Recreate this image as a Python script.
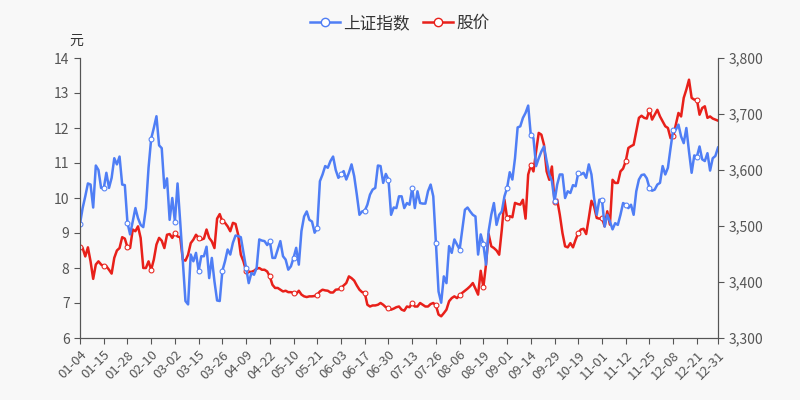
import numpy as np, pandas as pd, matplotlib
matplotlib.use("Agg")
import matplotlib.pyplot as plt, seaborn as sns
from matplotlib.ticker import FuncFormatter
from matplotlib.lines import Line2D

plt.rcParams["font.family"] = ["Noto Sans CJK SC", "DejaVu Sans"]

holidays = pd.to_datetime(["2021-01-01","2021-02-11","2021-02-12","2021-02-15","2021-02-16","2021-02-17",
    "2021-04-05","2021-05-03","2021-05-04","2021-05-05","2021-06-14","2021-09-20","2021-09-21",
    "2021-10-01","2021-10-04","2021-10-05","2021-10-06","2021-10-07"])
dates = [d for d in pd.bdate_range("2021-01-04", "2021-12-31") if d not in holidays]
date_labels = [d.strftime("%m-%d") for d in dates]

index_values = [3504,3532,3553,3576,3574,3533,3608,3600,3568,3567,3595,3568,3586,3621,3610,3624,3574,3573,3506,3485,
3508,3532,3514,3502,3498,3532,3604,3656,3675,3696,3644,3639,3568,3585,3511,3550,3508,3576,3508,3437,
3366,3360,3449,3437,3452,3420,3446,3446,3463,3407,3443,3401,3367,3366,3420,3437,3458,3449,3470,3483,
3482,3480,3452,3425,3398,3416,3413,3425,3476,3474,3473,3466,3473,3443,3443,3458,3473,3446,3440,3422,
3428,3443,3461,3431,3491,3517,3526,3511,3508,3488,3497,3580,3592,3607,3604,3616,3624,3600,3586,3592,
3598,3583,3595,3610,3589,3556,3520,3526,3527,3538,3556,3565,3568,3608,3607,3577,3593,3583,3520,3533,
3532,3553,3553,3532,3541,3538,3568,3532,3562,3541,3540,3540,3562,3574,3553,3470,3383,3363,3410,3398,
3464,3452,3476,3467,3458,3494,3529,3533,3526,3520,3517,3449,3485,3467,3431,3491,3520,3541,3502,3520,
3526,3553,3568,3596,3583,3621,3676,3678,3693,3702,3715,3662,3657,3607,3621,3633,3642,3616,3592,3580,
3544,3574,3592,3592,3550,3562,3559,3573,3571,3595,3592,3595,3586,3610,3592,3550,3520,3547,3547,3499,
3520,3508,3494,3505,3502,3520,3541,3538,3532,3538,3520,3562,3583,3591,3592,3585,3568,3563,3565,3574,
3577,3607,3592,3604,3639,3672,3672,3681,3660,3648,3675,3633,3595,3626,3624,3642,3619,3616,3630,3599,
3621,3625,3640]

price_values = [8.59,8.57,8.33,8.59,8.19,7.69,8.10,8.19,8.10,8.05,8.05,7.95,7.84,8.29,8.50,8.57,8.88,8.84,8.59,8.57,
9.10,9.05,9.19,8.86,8.00,8.00,8.19,7.95,8.24,8.67,8.86,8.78,8.57,8.95,8.97,8.86,9.00,8.90,8.88,8.24,
8.21,8.38,8.71,8.81,8.95,8.86,8.81,8.84,9.10,8.86,8.76,8.57,9.41,9.54,9.33,9.29,9.19,9.05,9.29,9.26,
8.95,8.38,8.19,7.92,7.89,7.89,7.92,7.98,8.00,7.95,7.95,7.90,7.76,7.52,7.43,7.43,7.38,7.33,7.35,7.31,
7.31,7.29,7.26,7.35,7.24,7.19,7.17,7.19,7.19,7.20,7.24,7.33,7.38,7.36,7.35,7.30,7.30,7.38,7.39,7.43,
7.50,7.57,7.76,7.71,7.64,7.50,7.38,7.31,7.29,6.95,6.90,6.93,6.93,6.95,7.00,6.95,6.88,6.86,6.81,6.84,
6.88,6.90,6.81,6.78,6.90,6.88,7.00,6.90,6.90,7.00,6.95,6.90,6.90,6.97,7.00,6.93,6.67,6.62,6.71,6.81,
7.05,7.14,7.19,7.14,7.22,7.29,7.35,7.41,7.48,7.57,7.41,7.24,7.92,7.45,8.10,8.97,8.62,8.57,8.50,8.38,
9.10,9.95,9.43,9.48,9.45,9.86,9.83,9.81,9.95,9.41,10.67,10.93,10.76,11.33,11.86,11.81,11.52,10.76,10.52,10.90,
9.90,9.95,9.52,9.00,8.62,8.59,8.71,8.59,8.81,9.00,9.10,9.12,8.97,9.43,9.92,9.76,9.43,9.41,9.43,9.19,
9.62,9.24,10.52,10.43,10.43,10.76,10.84,11.05,11.43,11.48,11.52,11.90,12.29,12.35,12.29,12.27,12.52,12.24,12.38,12.52,
12.33,12.19,12.05,12.00,11.71,11.76,12.10,12.43,12.33,12.86,13.10,13.38,12.86,12.81,12.81,12.38,12.57,12.62,12.29,12.33,
12.27,12.24,12.21]

n = min(len(dates), len(index_values), len(price_values))
df = pd.DataFrame({"i": np.arange(n), "date": date_labels[:n],
                   "idx": index_values[:n], "price": price_values[:n]})

BLUE, RED, BG, AX = "#4f7ef5", "#e8201a", "#f8f8f8", "#555555"
fig = plt.figure(figsize=(8, 4), dpi=100, facecolor=BG)
ax = fig.add_axes([0.1, 0.155, 0.7975, 0.70], facecolor=BG)
ax2 = ax.twinx()

mk = dict(marker="o", markevery=9, markersize=3.5, markerfacecolor="white", linewidth=1.8)
sns.lineplot(data=df, x="i", y="price", ax=ax, color=RED, markeredgecolor=RED, **mk)
sns.lineplot(data=df, x="i", y="idx", ax=ax2, color=BLUE, markeredgecolor=BLUE, **mk)

ax.set_xlim(0, n - 1)
ax.set_ylim(6, 14); ax.set_yticks(range(6, 15))
ax2.set_ylim(3300, 3800); ax2.set_yticks(range(3300, 3801, 100))
ax2.yaxis.set_major_formatter(FuncFormatter(lambda v, p: f"{int(v):,}"))
ticks = list(range(0, n, 9))
if ticks[-1] != n - 1:
    ticks.append(n - 1)
ax.set_xticks(ticks)
ax.set_xticklabels([df["date"][t] for t in ticks], rotation=45, ha="right", rotation_mode="anchor")
for a in (ax, ax2):
    a.set_xlabel(""); a.set_ylabel("")
    a.tick_params(colors=AX, labelsize=10, length=4)
    a.spines["top"].set_visible(False)
    for s in ("left", "bottom", "right"):
        a.spines[s].set_color(AX)
ax.tick_params(axis="x", labelsize=9.5)
ax.text(0.005, 1.035, "元", transform=ax.transAxes, ha="right", va="bottom", fontsize=10, color="#333333")

handles = [Line2D([], [], color=BLUE, marker="o", markerfacecolor="white", lw=1.8, markersize=6),
           Line2D([], [], color=RED, marker="o", markerfacecolor="white", lw=1.8, markersize=6)]
fig.legend(handles, ["上证指数", "股价"], loc="upper center", bbox_to_anchor=(0.5, 1.0), ncol=2,
           frameon=False, fontsize=12, handlelength=1.8, handletextpad=0.2, columnspacing=0.8, labelcolor="#333333")
fig.savefig("out.png", dpi=100, facecolor=BG)
